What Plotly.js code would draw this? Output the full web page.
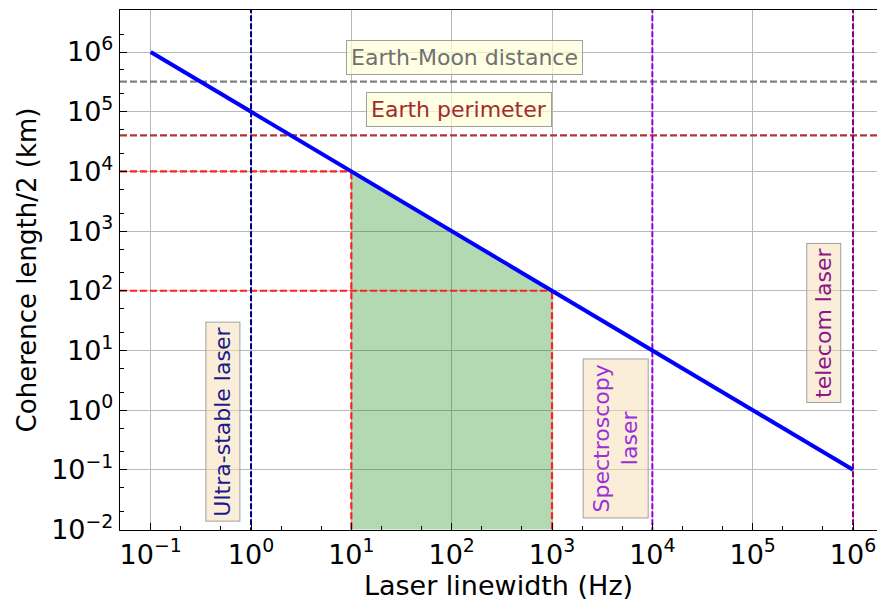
<!DOCTYPE html>
<html>
<head>
<meta charset="utf-8">
<script src="https://cdn.plot.ly/plotly-3.0.1.min.js"></script>
<style>html,body{margin:0;padding:0;background:#fff}#chart{width:877px;height:603px}</style>
</head>
<body>
<div id="chart"></div>
<script>
// ---- data ----
const linewidthHz = [0.1, 1e6];
const coherenceKm = [1e6, 0.1];
const bandX = [10, 1000];          // highlighted linewidth band
const bandTop = [1e4, 1e2];        // coherence at band edges
const axisFloor = 1e-2;
const earthMoonKm = 3.2e5;
const earthPerimeterKm = 4e4;
const laserTypesHz = [1, 1e4, 1e6];
const laserLabels = ["Ultra-stable laser", "Spectroscopy<br>laser", "telecom laser"];
const laserColors = ["navy", "darkviolet", "purple"];
const xTickVals = [1e-1, 1e0, 1e1, 1e2, 1e3, 1e4, 1e5, 1e6];
const xTickText = ["10<sup>−1</sup>","10<sup>0</sup>","10<sup>1</sup>","10<sup>2</sup>","10<sup>3</sup>","10<sup>4</sup>","10<sup>5</sup>","10<sup>6</sup>"];
const yTickVals = [1e-2, 1e-1, 1e0, 1e1, 1e2, 1e3, 1e4, 1e5, 1e6];
const yTickText = ["10<sup>−2</sup>","10<sup>−1</sup>","10<sup>0</sup>","10<sup>1</sup>","10<sup>2</sup>","10<sup>3</sup>","10<sup>4</sup>","10<sup>5</sup>","10<sup>6</sup>"];

const farLeft = 1e-3, farRight = 1e8, farTop = 1e9;
const dash = "7px,3px";
const traces = [];

// green band under the curve
traces.push({
  x: [bandX[0], bandX[1], bandX[1], bandX[0]],
  y: [bandTop[0], bandTop[1], axisFloor, axisFloor],
  fill: "toself", fillcolor: "rgba(0,128,0,0.3)",
  mode: "lines", line: {width: 0}, hoverinfo: "skip", showlegend: false
});
// horizontal reference lines
traces.push({x: [farLeft, farRight], y: [earthMoonKm, earthMoonKm], mode: "lines",
  line: {color: "#808080", width: 2.2, dash: dash}, showlegend: false});
traces.push({x: [farLeft, farRight], y: [earthPerimeterKm, earthPerimeterKm], mode: "lines",
  line: {color: "#b03535", width: 2.2, dash: dash}, showlegend: false});
// red band boundaries
for (let i = 0; i < bandX.length; i++) {
  traces.push({x: [farLeft, bandX[i]], y: [bandTop[i], bandTop[i]], mode: "lines",
    line: {color: "#ff2020", width: 2.2, dash: dash}, showlegend: false});
  traces.push({x: [bandX[i], bandX[i]], y: [axisFloor / 10, bandTop[i]], mode: "lines",
    line: {color: "#ff2020", width: 2.2, dash: dash}, showlegend: false});
}
// vertical laser lines
for (let i = 0; i < laserTypesHz.length; i++) {
  traces.push({x: [laserTypesHz[i], laserTypesHz[i]], y: [axisFloor / 10, farTop], mode: "lines",
    line: {color: laserColors[i], width: 2, dash: "6px,2px"}, showlegend: false});
}
// main curve
traces.push({x: linewidthHz, y: coherenceKm, mode: "lines",
  line: {color: "#0000ff", width: 4}, showlegend: false});

const fam = "DejaVu Sans, sans-serif";
const L = Math.log10;
const annFont = 22;

const annotations = [
  {x: L(133), y: L(8.2e5), text: "Earth-Moon distance", font: {family: fam, size: annFont, color: "#707070"},
   bgcolor: "rgba(255,255,215,0.7)", bordercolor: "#a0a0a0", borderwidth: 1, borderpad: 4},
  {x: L(118), y: L(1.07e5), text: "Earth perimeter", font: {family: fam, size: annFont, color: "#a52a2a"},
   bgcolor: "rgba(255,255,215,0.7)", bordercolor: "#a0a0a0", borderwidth: 1, borderpad: 4},
  {x: L(0.52), y: L(0.63), text: laserLabels[0], textangle: -90, font: {family: fam, size: annFont, color: "#1a1a8a"},
   bgcolor: "rgba(245,222,179,0.5)", bordercolor: "#a0a0a0", borderwidth: 1, borderpad: 4},
  {x: L(4300), y: L(0.33), text: laserLabels[1], textangle: -90, font: {family: fam, size: annFont, color: "#9b30d8"},
   bgcolor: "rgba(245,222,179,0.5)", bordercolor: "#a0a0a0", borderwidth: 1, borderpad: 5},
  {x: L(5.15e5), y: L(29), text: laserLabels[2], textangle: -90, font: {family: fam, size: annFont, color: "#8a168a"},
   bgcolor: "rgba(245,222,179,0.5)", bordercolor: "#a0a0a0", borderwidth: 1, borderpad: 4}
].map(a => Object.assign({xref: "x", yref: "y", showarrow: false}, a));

const axFont = {family: fam, size: 27, color: "#000"};

const layout = {
  width: 877, height: 603,
  margin: {l: 120, r: 0, t: 10, b: 73},
  paper_bgcolor: "#fff", plot_bgcolor: "#fff",
  font: axFont,
  showlegend: false,
  xaxis: {
    type: "log", range: [-1.3057, 6.239],
    tickvals: xTickVals, ticktext: xTickText,
    ticks: "inside", ticklen: 7, tickcolor: "#000",
    minor: {ticks: "inside", ticklen: 4, tickcolor: "#000", showgrid: false},
    showgrid: true, gridcolor: "#b8b8b8", gridwidth: 1,
    showline: true, linecolor: "#000", linewidth: 1.2, mirror: true,
    zeroline: false,
    tickfont: axFont,
    title: {text: "Laser linewidth (Hz)", font: {family: fam, size: 27, color: "#000"}, standoff: 2}
  },
  yaxis: {
    type: "log", range: [-2.008, 6.704],
    tickvals: yTickVals, ticktext: yTickText,
    ticks: "inside", ticklen: 7, tickcolor: "#000",
    minor: {ticks: "inside", ticklen: 4, tickcolor: "#000", showgrid: false},
    showgrid: true, gridcolor: "#b8b8b8", gridwidth: 1,
    showline: true, linecolor: "#000", linewidth: 1.2, mirror: false,
    zeroline: false,
    tickfont: axFont,
    title: {text: "Coherence length/2 (km)", font: {family: fam, size: 26, color: "#000"}, standoff: 7}
  },
  annotations: annotations
};

Plotly.newPlot("chart", traces, layout, {displayModeBar: false, staticPlot: true});
</script>
</body>
</html>
